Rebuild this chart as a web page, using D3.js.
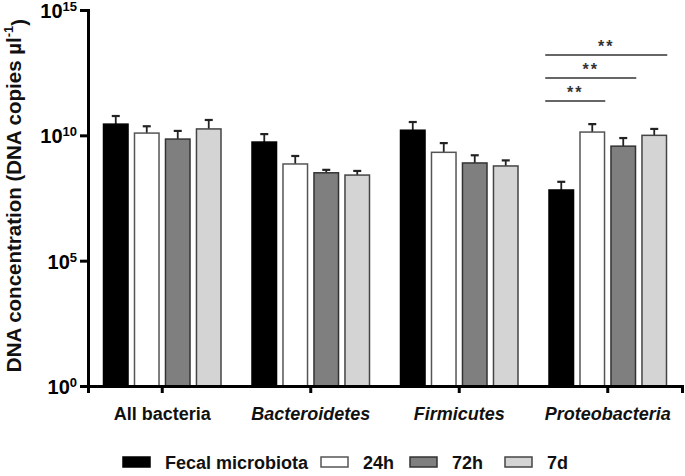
<!DOCTYPE html>
<html>
<head>
<meta charset="utf-8">
<script src="https://cdn.jsdelivr.net/npm/d3@7"></script>
<style>
  html, body { margin: 0; padding: 0; background: #fff; }
  svg { display: block; font-family: "Liberation Sans", Arial, sans-serif; }
</style>
</head>
<body>
<svg id="chart" width="685" height="476"></svg>
<script>
// ---- data ----
const categories = ["All bacteria", "Bacteroidetes", "Firmicutes", "Proteobacteria"];
const italicCats = [false, true, true, true];
const seriesNames = ["Fecal microbiota", "24h", "72h", "7d"];
// mean values (DNA copies per µl), per series, per category
const fecal = [2.8e10, 5.4e9, 1.6e10, 6.6e7];
const h24   = [1.23e10, 7.2e8, 2.1e9, 1.35e10];
const h72   = [7.1e9, 3.2e8, 7.9e8, 3.7e9];
const d7    = [1.8e10, 2.6e8, 6.0e8, 1.0e10];
// upper error bar ends
const fecalErr = [5.9e10, 1.12e10, 3.4e10, 1.4e8];
const h24Err   = [2.3e10, 1.5e9, 4.9e9, 2.8e10];
const h72Err   = [1.5e10, 4.2e8, 1.6e9, 7.8e9];
const d7Err    = [4.1e10, 3.8e8, 1.0e9, 1.8e10];
const yTicks = [1, 1e5, 1e10, 1e15];
const yTickExp = ["0", "5", "10", "15"];
// significance comparisons within Proteobacteria: [fromSeries, toSeries, label]
const sigCat = "Proteobacteria";
const sigPairs = [[0, 1, "**"], [0, 2, "**"], [0, 3, "**"]];

const seriesValues = [fecal, h24, h72, d7];
const seriesErrs = [fecalErr, h24Err, h72Err, d7Err];
const fills = ["#000000", "#ffffff", "#7f7f7f", "#d4d4d4"];
const strokes = ["#000000", "#555555", "#333333", "#444444"];

const svg = d3.select("#chart");
const x0 = 88, x1 = 682, yTop = 10, yBot = 386;

const x = d3.scaleBand().domain(categories).range([x0, x1]).padding(0);
const inner = d3.scaleBand().domain(d3.range(4)).range([-59.5, 59.5]).paddingInner(0.16).paddingOuter(0);
const y = d3.scaleLog().domain([1, 1e15]).range([yBot, yTop]);

// bars
categories.forEach((c, ci) => {
  const cx = x(c) + x.bandwidth() / 2;
  seriesValues.forEach((vals, si) => {
    const bx = cx + inner(si);
    const bw = inner.bandwidth();
    const v = vals[ci], e = seriesErrs[si][ci];
    const ec = bx + bw / 2;
    svg.append("line")
      .attr("x1", ec).attr("x2", ec)
      .attr("y1", y(v)).attr("y2", y(e))
      .attr("stroke", "#222").attr("stroke-width", 1.8);
    svg.append("line")
      .attr("x1", ec - 4).attr("x2", ec + 4)
      .attr("y1", y(e)).attr("y2", y(e))
      .attr("stroke", "#222").attr("stroke-width", 2.2);
    svg.append("rect")
      .attr("x", bx + 0.75).attr("y", y(v))
      .attr("width", bw - 1.5).attr("height", yBot - y(v))
      .attr("fill", fills[si])
      .attr("stroke", strokes[si]).attr("stroke-width", 1.5);
  });
});

// y axis
const yAxis = d3.axisLeft(y).tickValues(yTicks).tickSize(8).tickFormat("");
const gy = svg.append("g").attr("transform", `translate(${x0},0)`).call(yAxis);
gy.select(".domain").attr("stroke", "#000").attr("stroke-width", 3);
gy.selectAll(".tick line").attr("stroke", "#000").attr("stroke-width", 3);
gy.selectAll(".tick").each(function(d, i) {
  const t = d3.select(this).append("text")
    .attr("x", -11).attr("y", 0).attr("dy", "0.38em")
    .attr("text-anchor", "end")
    .attr("fill", "#000").attr("font-weight", "bold")
    .attr("font-size", 20);
  t.append("tspan").text("10");
  t.append("tspan").attr("font-size", 13).attr("dy", "-0.55em").text(yTickExp[i]);
});

// x axis
const xAxis = d3.axisBottom(x).tickSize(7).tickFormat("");
const gx = svg.append("g").attr("transform", `translate(0,${yBot})`).call(xAxis);
gx.select(".domain").attr("stroke", "#000").attr("stroke-width", 3);
gx.selectAll(".tick line").attr("stroke", "#000").attr("stroke-width", 3);
gx.selectAll(".tick").append("text")
  .attr("y", 34).attr("text-anchor", "middle")
  .attr("fill", "#111").attr("font-weight", "bold").attr("font-size", 18)
  .attr("font-style", (d, i) => italicCats[i] ? "italic" : "normal")
  .text(d => d);

// y title
const yt = svg.append("text")
  .attr("transform", `translate(21,${(18 + 373) / 2}) rotate(-90)`)
  .attr("text-anchor", "middle")
  .attr("fill", "#111").attr("font-weight", "bold").attr("font-size", 20.5);
yt.append("tspan").text("DNA concentration (DNA copies µl");
yt.append("tspan").attr("font-size", 13).attr("dy", "-0.6em").text("-1");
yt.append("tspan").attr("dy", "0.6em").text(")");

// significance
const scx = x(sigCat) + x.bandwidth() / 2;
const sigY = [101, 78, 55];
sigPairs.forEach(([a, b, lab], k) => {
  const xa = scx + inner(a) - 3;
  const xb = scx + inner(b) + inner.bandwidth();
  const ly = sigY[k];
  svg.append("line").attr("x1", xa).attr("x2", xb).attr("y1", ly).attr("y2", ly)
    .attr("stroke", "#333").attr("stroke-width", 1.5);
  svg.append("text").attr("x", (xa + xb) / 2).attr("y", ly - 3)
    .attr("text-anchor", "middle").attr("font-weight", "bold").attr("font-size", 16)
    .attr("letter-spacing", 2)
    .attr("fill", "#333").text(lab);
});

// legend
const legX = [123, 321, 410, 505];
seriesNames.forEach((n, i) => {
  svg.append("rect").attr("x", legX[i]).attr("y", 457).attr("width", 27).attr("height", 10)
    .attr("fill", fills[i]).attr("stroke", strokes[i]).attr("stroke-width", 1.5);
  svg.append("text").attr("x", legX[i] + 42).attr("y", 469)
    .attr("font-weight", "bold").attr("font-size", 18).attr("fill", "#111").text(n);
});
</script>
</body>
</html>
